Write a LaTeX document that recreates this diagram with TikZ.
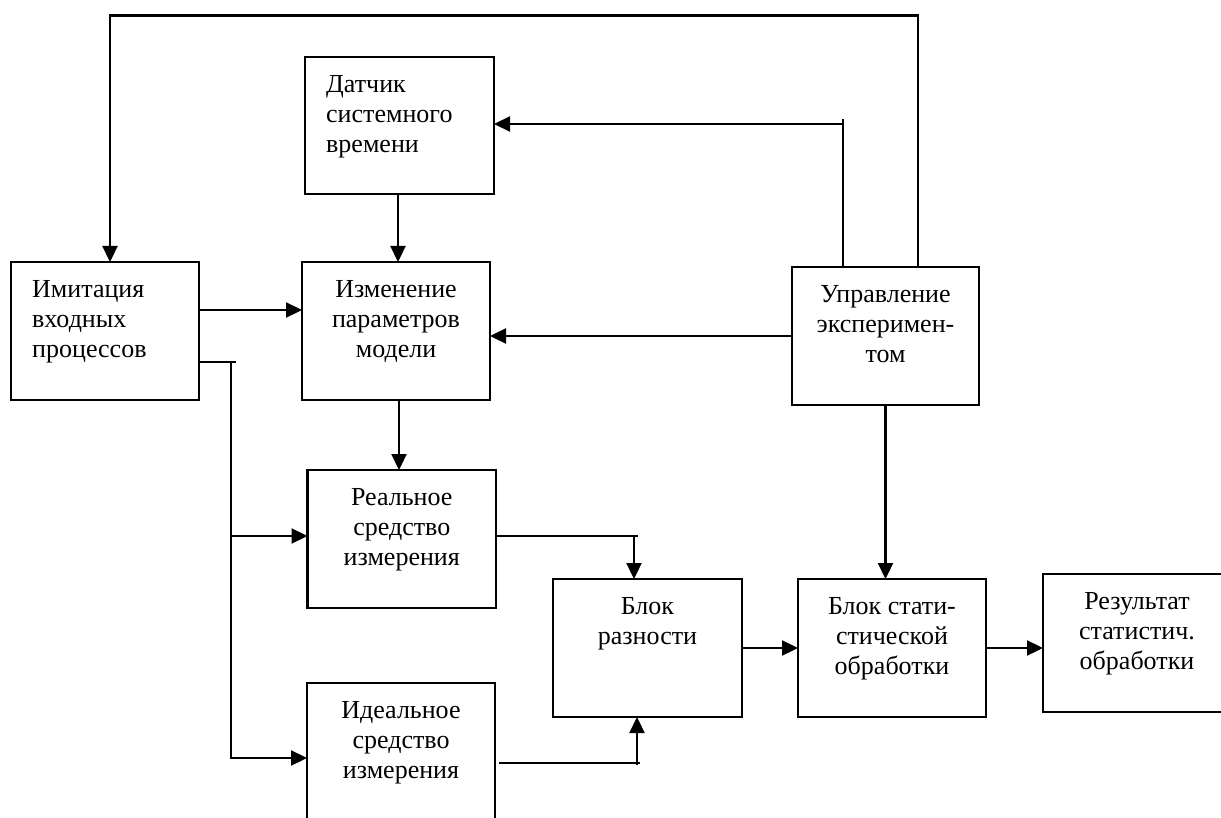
\documentclass[tikz,border=0pt]{standalone}
\usepackage{fontspec}
\setmainfont{Liberation Serif}
\usetikzlibrary{arrows.meta}
\tikzset{
  box/.style={draw, line width=2.3pt, inner sep=0pt, outer sep=0pt, minimum height=138pt},
  lbl/.style={font=\fontsize{26}{30}\selectfont, inner sep=0pt, align=center, anchor=north},
  lbll/.style={font=\fontsize{26}{30}\selectfont, inner sep=0pt, align=left, anchor=north west},
  ln/.style={line width=2.3pt},
  arr/.style={line width=2.3pt, -{Triangle[length=16pt,width=15pt]}}
}
\begin{document}
\begin{tikzpicture}[x=1pt,y=-1pt]
\useasboundingbox (0,0) rectangle (1221,818);
\fill[white] (0,0) rectangle (1221,818);
\clip (0,0) rectangle (1221,818);
% boxes
\node[box, minimum width=189pt, minimum height=137pt] (dat) at (399.5,125.5) {};
\node[box, minimum width=188pt] (imit) at (105,331) {};
\node[box, minimum width=188pt] (izm) at (396,331) {};
\node[box, minimum width=187pt] (upr) at (885.5,336) {};
\node[box, minimum width=188.5pt] (real) at (401.75,539) {};
\node[box, minimum width=188pt] (ideal) at (401,752) {};
\node[box, minimum width=189pt] (razn) at (647.5,648) {};
\node[box, minimum width=188pt] (stat) at (892,648) {};
\node[box, minimum width=188pt] (res) at (1137,643) {};
% labels
\node[lbll] (tdat) at (326,71) {\strut Датчик\\системного\\времени};
\node[lbll] (timit) at (32,276) {\strut Имитация\\входных\\процессов};
\node[lbl] (tizm) at (396,276) {\strut Изменение\\параметров\\модели};
\node[lbl] (tupr) at (885.5,281) {\strut Управление\\эксперимен-\\том};
\node[lbl] (treal) at (401.75,484) {\strut Реальное\\средство\\измерения};
\node[lbl] (tideal) at (401,697) {\strut Идеальное\\средство\\измерения};
\node[lbl] (trazn) at (647.5,593) {\strut Блок\\разности};
\node[lbl] (tstat) at (892,593) {\strut Блок стати-\\стической\\обработки};
\node[lbl] (tres) at (1137,588) {\strut Результат\\статистич.\\обработки};
% helper coordinates
\coordinate (c1) at (918,15.5);
\coordinate (c2) at (110,15.5);
\coordinate (c3) at (843,119);
\coordinate (c4) at (843,124);
\coordinate (y310) at (0,310);
\coordinate (b0) at (231,362);
\coordinate (b1) at (236,362);
\coordinate (y536) at (0,536);
\coordinate (y758) at (0,758);
\coordinate (r1) at (638,536);
\coordinate (r2) at (634,536);
\coordinate (i0) at (499,763);
\coordinate (i1) at (640,763);
\coordinate (i2) at (637,765);
% connectors
\draw[arr] (upr.north -| c1) -- (c1) -- (c2) -- (imit.north -| c2);
\draw[ln] (upr.north -| c3) -- (c3);
\draw[arr] (c4) -- (dat.east |- c4);
\draw[arr] (dat.south -| 398,0) -- (izm.north -| 398,0);
\draw[arr] (imit.east |- y310) -- (izm.west |- y310);
\draw[arr] (upr.west) -- (izm.east |- upr.west);
\draw[ln] (imit.east |- b0) -- (b1);
\draw[arr] (b0) -- (b0 |- y758) -- (ideal.west |- y758);
\draw[arr] (b0 |- y536) -- (real.west |- y536);
\draw[arr] (izm.south -| 399,0) -- (real.north -| 399,0);
\draw[ln] (real.east |- r1) -- (r1);
\draw[arr] (r2) -- (razn.north -| r2);
\draw[ln] (i0) -- (i1);
\draw[arr] (i2) -- (razn.south -| i2);
\draw[arr] (razn.east) -- (stat.west);
\draw[arr] (stat.east) -- (res.west |- stat.east);
\draw[arr] (upr.south) -- (stat.north -| upr.south);
\end{tikzpicture}
\end{document}
